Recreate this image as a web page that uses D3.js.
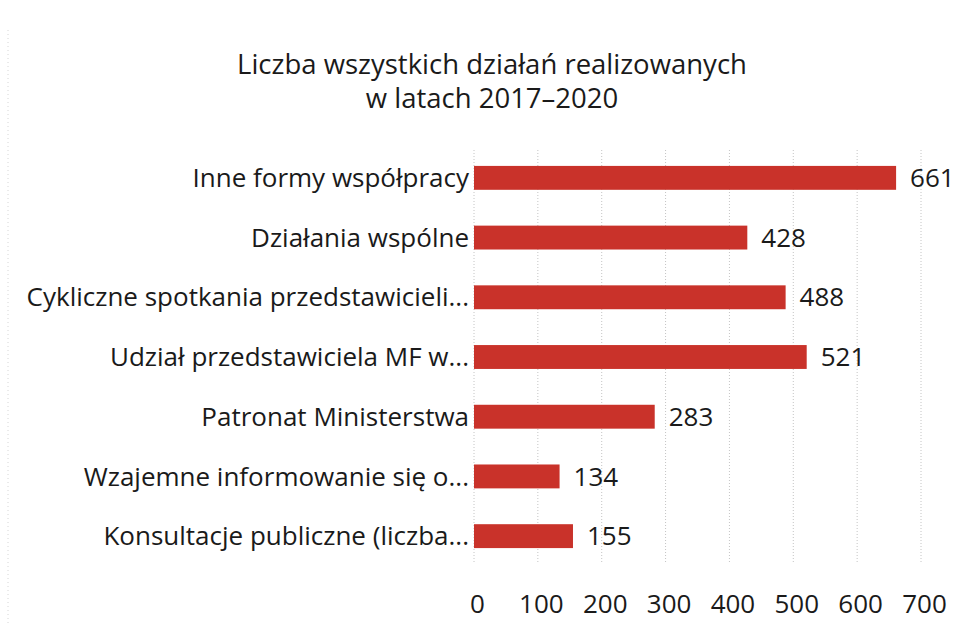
<!DOCTYPE html>
<html lang="pl">
<head>
  <meta charset="UTF-8">
  <title>Liczba wszystkich działań realizowanych w latach 2017–2020</title>
  <script src="https://d3js.org/d3.v7.min.js"></script>
  <style>
    body { margin: 0; background: #fff; }
    svg { display: block; font-family: "Open Sans", sans-serif; }
  </style>
</head>
<body>
  <svg id="chart" width="964" height="635"></svg>
  <script>
    const titleLines = ['Liczba wszystkich działań realizowanych', 'w latach 2017–2020'];
    const categories = [
      'Inne formy współpracy',
      'Działania wspólne',
      'Cykliczne spotkania przedstawicieli...',
      'Udział przedstawiciela MF w...',
      'Patronat Ministerstwa',
      'Wzajemne informowanie się o...',
      'Konsultacje publiczne (liczba...'
    ];
    const values = [661, 428, 488, 521, 283, 134, 155];
    const tickValues = [0, 100, 200, 300, 400, 500, 600, 700];

    const svg = d3.select('#chart');

    const x = d3.scaleLinear().domain([0, 700]).range([474, 921]);
    const y = d3.scaleBand()
      .domain(categories)
      .range([148, 566])
      .paddingInner(0.6)
      .paddingOuter(0.3);

    // faint scan edge on the left
    svg.append('line')
      .attr('x1', 8).attr('x2', 8).attr('y1', 30).attr('y2', 625)
      .attr('stroke', '#d6d6d6').attr('stroke-dasharray', '1,3');

    // title
    svg.append('g').selectAll('text')
      .data(titleLines)
      .join('text')
        .attr('x', 492)
        .attr('y', (d, i) => 74 + i * 34)
        .attr('text-anchor', 'middle')
        .attr('font-size', 27.5)
        .attr('fill', '#1a1a1a')
        .text(d => d);

    // gridlines
    svg.append('g').selectAll('line')
      .data(tickValues)
      .join('line')
        .attr('x1', d => x(d)).attr('x2', d => x(d))
        .attr('y1', 150).attr('y2', 562)
        .attr('stroke', '#c4c4c4')
        .attr('stroke-width', 1)
        .attr('stroke-dasharray', '1,2');

    // bars
    svg.append('g').selectAll('rect')
      .data(values)
      .join('rect')
        .attr('x', x(0))
        .attr('y', (d, i) => y(categories[i]))
        .attr('width', d => x(d) - x(0))
        .attr('height', y.bandwidth())
        .attr('fill', '#c9322a');

    // value labels
    svg.append('g').selectAll('text')
      .data(values)
      .join('text')
        .attr('x', d => x(d) + 14)
        .attr('y', (d, i) => y(categories[i]) + y.bandwidth() / 2)
        .attr('dy', '0.35em')
        .attr('font-size', 26)
        .attr('fill', '#1a1a1a')
        .text(d => d);

    // category labels
    svg.append('g').selectAll('text')
      .data(categories)
      .join('text')
        .attr('x', 469)
        .attr('y', d => y(d) + y.bandwidth() / 2)
        .attr('dy', '0.35em')
        .attr('text-anchor', 'end')
        .attr('font-size', 26)
        .attr('fill', '#1a1a1a')
        .text(d => d);

    // x axis (labels only)
    const xAxis = d3.axisBottom(x).tickValues(tickValues).tickSize(0).tickPadding(0);
    const gx = svg.append('g')
      .attr('transform', 'translate(3,595)')
      .call(xAxis);
    gx.select('.domain').remove();
    gx.selectAll('text')
      .attr('font-size', 26)
      .attr('font-family', '"Open Sans", sans-serif')
      .attr('fill', '#1a1a1a');
  </script>
</body>
</html>
